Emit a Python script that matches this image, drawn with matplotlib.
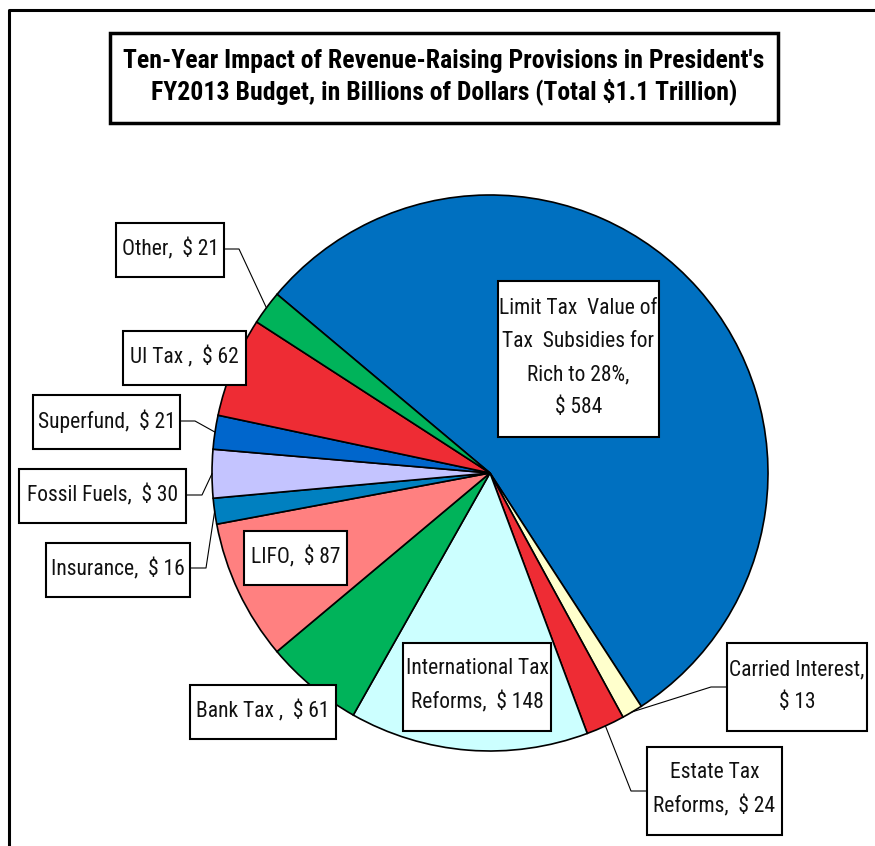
import matplotlib
matplotlib.use("Agg")
import matplotlib.pyplot as plt
from matplotlib.patches import Rectangle
from matplotlib import font_manager
import numpy as np

# ---- data ----
categories = ["Limit Tax  Value of\nTax  Subsidies for\nRich to 28%,", "Carried Interest,", "Estate Tax\nReforms,",
              "International Tax\nReforms,", "Bank Tax ,", "LIFO,", "Insurance,", "Fossil Fuels,",
              "Superfund,", "UI Tax ,", "Other,"]
values = [584, 13, 24, 148, 61, 87, 16, 30, 21, 62, 21]
label_values = ["\n$ 584", "\n$ 13", "  $ 24", "  $ 148", "  $ 61", "  $ 87", "  $ 16", "  $ 30",
                "  $ 21", "  $ 62", "  $ 21"]
colors = ["#0070C0", "#FFFFCC", "#EE2C34", "#CCFFFF", "#00B35A", "#FF8080", "#0080C0",
          "#C4C4FF", "#0066CC", "#EE2C34", "#00B35A"]
title = "Ten-Year Impact of Revenue-Raising Provisions in President's\nFY2013 Budget, in Billions of Dollars (Total $1.1 Trillion)"

avail = {}
for f in font_manager.fontManager.ttflist:
    avail.setdefault(f.name, set()).add(f.weight)
prefs = ["Liberation Sans Narrow", "Arial Narrow", "Roboto Condensed", "Asap Condensed",
         "PT Sans Narrow", "Barlow Semi Condensed", "Liberation Sans"]
fam = next(p for p in prefs if p in avail)

W, H = 875, 846
fig = plt.figure(figsize=(W / 100, H / 100), dpi=100)
ax = fig.add_axes([0, 0, 1, 1])

def Y(py):
    return H - py

# pie
cx, cy, R = 490, Y(473), 278
start = 140
wedges, _ = ax.pie(values, colors=colors, startangle=start, counterclock=False,
                   center=(cx, cy), radius=R, frame=True,
                   wedgeprops=dict(edgecolor="black", linewidth=1.2))
ax.set_xlim(0, W)
ax.set_ylim(0, H)
ax.set_aspect("equal")
ax.axis("off")

# figure border (left and top)
ax.plot([9, 9, W], [0, Y(10), Y(10)], color="black", lw=2.2, solid_capstyle="butt")

# label layout: box (x0, y0, x1, y1) in pixel coords (top-left origin), leader elbow or None
boxes = [
    (498, 281, 659, 437, None),
    (727, 643, 867, 731, (711, 687, "L")),
    (647, 747, 782, 835, (631, 791, "L")),
    (403, 643, 551, 731, None),
    (190, 685, 336, 739, None),
    (244, 531, 347, 585, None),
    (46, 543, 190, 597, (206, 568, "R")),
    (19, 469, 186, 523, (202, 495, "R")),
    (33, 395, 180, 449, (195, 421, "R")),
    (123, 331, 246, 385, None),
    (116, 223, 224, 277, (239, 249, "R")),
]

for w, cat, lv, (x0, y0, x1, y1, lead) in zip(wedges, categories, label_values, boxes):
    if lead is not None:
        mid = np.deg2rad((w.theta1 + w.theta2) / 2)
        px, py = cx + R * np.cos(mid), cy + R * np.sin(mid)
        ex, ey, side = lead
        bx = x1 if side == "R" else x0
        ax.plot([bx, ex, px], [Y(ey), Y(ey), py], color="black", lw=0.8, zorder=3)
    ax.add_patch(Rectangle((x0, Y(y1)), x1 - x0, y1 - y0, facecolor="white",
                           edgecolor="black", lw=1.5, zorder=4))
    ax.text((x0 + x1) / 2, Y((y0 + y1) / 2 - 1), cat + lv, ha="center", va="center",
            fontsize=15.5, family=fam, color="#111111", linespacing=1.75, zorder=5)

# title box
ax.add_patch(Rectangle((110, Y(123)), 668, 90, facecolor="white", edgecolor="black",
                       lw=2.5, zorder=4))
ax.text(444, Y(77), title, ha="center", va="center", fontsize=18.5, fontweight="bold",
        family=fam, linespacing=1.25, zorder=5)

fig.savefig("out.png", dpi=100)
